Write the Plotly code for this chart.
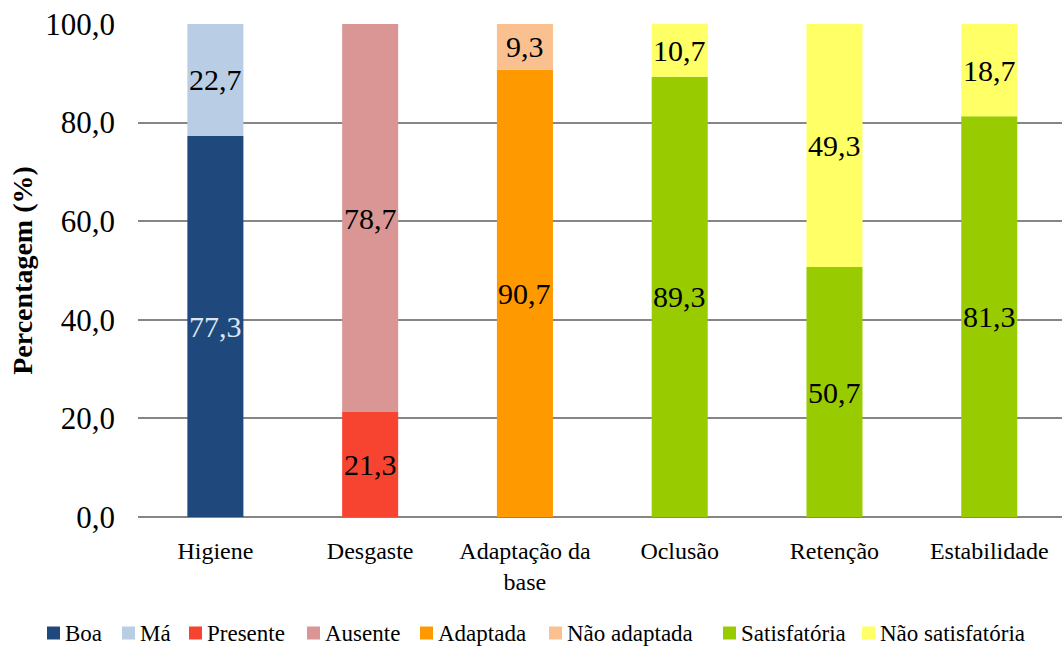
import plotly.graph_objects as go

# Categories on the x axis
categories = ["Higiene", "Desgaste", "Adaptação da<br>base", "Oclusão", "Retenção", "Estabilidade"]

# Each category is split into a lower and an upper segment (percentages)
lower_names = ["Boa", "Presente", "Adaptada", "Satisfatória", "Satisfatória", "Satisfatória"]
lower_values = [77.3, 21.3, 90.7, 89.3, 50.7, 81.3]
upper_names = ["Má", "Ausente", "Não adaptada", "Não satisfatória", "Não satisfatória", "Não satisfatória"]
upper_values = [22.7, 78.7, 9.3, 10.7, 49.3, 18.7]

# Legend order and colours
series_names = ["Boa", "Má", "Presente", "Ausente", "Adaptada", "Não adaptada",
                "Satisfatória", "Não satisfatória"]
series_colors = ["#1F497D", "#B9CDE5", "#F74431", "#D99694", "#FF9900", "#FAC090",
                 "#99CC00", "#FFFF66"]
label_colors = {"Boa": "#DCE6F2"}

y_ticks = [0, 20, 40, 60, 80, 100]

FONT = "'Times New Roman', 'Liberation Serif', 'DejaVu Serif', serif"
BAR_WIDTH = 0.362

fig = go.Figure()

for name, color in zip(series_names, series_colors):
    xs, ys, bases = [], [], []
    for i in range(len(categories)):
        if lower_names[i] == name:
            xs.append(i); ys.append(lower_values[i]); bases.append(0)
        elif upper_names[i] == name:
            xs.append(i); ys.append(upper_values[i]); bases.append(lower_values[i])
    fig.add_trace(go.Bar(
        x=xs, y=ys, base=bases,
        name=name,
        marker=dict(color=color, line=dict(width=0)),
        width=BAR_WIDTH,
        hoverinfo="skip",
        showlegend=False,
    ))

# Value labels centred in each segment
def fmt(v):
    return f"{v:.1f}".replace(".", ",")

for i in range(len(categories)):
    segs = [(lower_names[i], 0, lower_values[i]),
            (upper_names[i], lower_values[i], upper_values[i])]
    for name, base, v in segs:
        fig.add_annotation(
            x=i, y=base + v / 2, xref="x", yref="y",
            text=fmt(v), showarrow=False,
            font=dict(family=FONT, size=30, color=label_colors.get(name, "#000000")),
        )

# Compact single-row legend below the plot: coloured square + name
W, H = 1062, 646
PLOT_L, PLOT_T, PLOT_B = 138, 24, 517
legend_square_x = [47, 122, 189, 307, 420, 549, 723, 862]
SQ = 13
LEG_Y = 633


def px_x(x):
    return (x - PLOT_L) / (W - PLOT_L)


def px_y(y):
    return (PLOT_B - y) / (PLOT_B - PLOT_T)


for name, color, sx in zip(series_names, series_colors, legend_square_x):
    fig.add_shape(
        type="rect", xref="paper", yref="paper",
        x0=px_x(sx), x1=px_x(sx + SQ),
        y0=px_y(LEG_Y + SQ / 2), y1=px_y(LEG_Y - SQ / 2),
        fillcolor=color, line=dict(width=0),
    )
    fig.add_annotation(
        x=px_x(sx + SQ + 3), y=px_y(LEG_Y),
        xref="paper", yref="paper", xanchor="left", yanchor="middle",
        text=name, showarrow=False,
        font=dict(family=FONT, size=23, color="#000000"),
    )

fig.update_layout(
    width=W, height=H,
    margin=dict(l=PLOT_L, r=0, t=PLOT_T, b=H - PLOT_B, autoexpand=False),
    paper_bgcolor="white", plot_bgcolor="white",
    barmode="overlay",
    separators=",.",
    font=dict(family=FONT, color="#000000"),
    showlegend=False,
    xaxis=dict(
        tickmode="array",
        tickvals=list(range(len(categories))),
        ticktext=categories,
        range=[-0.5, 5.47],
        showgrid=False, zeroline=False, showline=False,
        ticks="", tickfont=dict(family=FONT, size=24, color="#000000"),
        ticklabelstandoff=17,
    ),
    yaxis=dict(
        range=[0, 100],
        tickvals=y_ticks,
        tickformat=".1f",
        showgrid=True, gridcolor="#868686", gridwidth=2,
        zeroline=True, zerolinecolor="#868686", zerolinewidth=2,
        showline=False, ticks="",
        tickfont=dict(family=FONT, size=31, color="#000000"),
        ticklabelstandoff=22,
        title=dict(text="<b>Percentagem (%)</b>",
                   font=dict(family=FONT, size=28, color="#000000"), standoff=4),
    ),
)

fig.write_html("out.html")
